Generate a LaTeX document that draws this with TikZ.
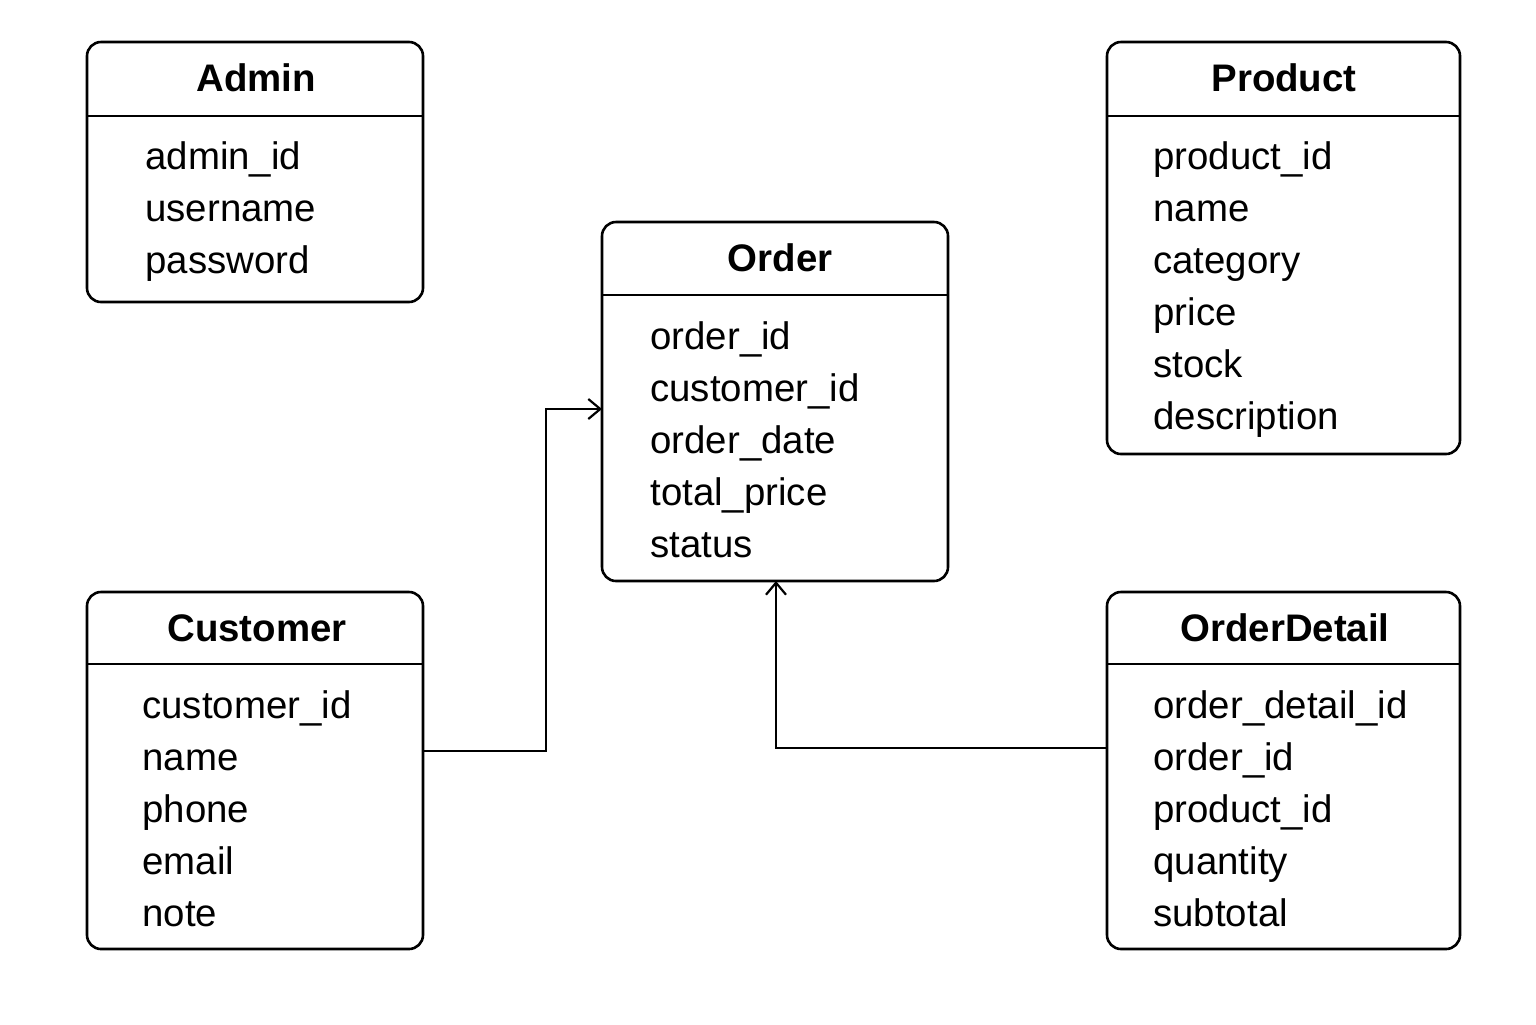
\documentclass[tikz,border=0pt]{standalone}
\usepackage{fontspec}
\setmainfont{Liberation Sans}
\usepackage{tikz}
\usetikzlibrary{positioning,arrows.meta}

\begin{document}
\begin{tikzpicture}[
      x=0.5pt, y=-0.5pt,
      entity/.style={
        draw,
        rectangle,
        rounded corners=7pt,
        line width=1.3pt,
        outer sep=0pt,
        inner sep=0pt
      },
      title/.style={
        anchor=base,
        inner sep=0pt,
        font=\fontsize{19.2}{23}\selectfont\bfseries
      },
      attr/.style={
        anchor=base west,
        inner sep=0pt,
        font=\fontsize{19.2}{23}\selectfont
      },
      conn/.style={line width=1pt},
      >={Straight Barb[length=6pt,width=10pt,line width=1.1pt]} % arrow tip
    ]
    \useasboundingbox (0,0) rectangle (1536,1024);

    % Admin
    \node[entity, minimum width=168pt, minimum height=130pt] (admin) at (255,172) {};
    \node[title] (admin-t) at (256,91) {Admin};
    \draw[line width=1.3pt] ([yshift=-37pt]admin.north west) -- ([yshift=-37pt]admin.north east);
    \foreach \a [count=\i] in {admin\_id, username, password}
      \node[attr] (admin-\i) at (145,{117+52*\i}) {\a};

    % Product
    \node[entity, minimum width=176.5pt, minimum height=206pt] (product) at (1283.5,248) {};
    \node[title] (product-t) at (1284,91) {Product};
    \draw[line width=1.3pt] ([yshift=-37pt]product.north west) -- ([yshift=-37pt]product.north east);
    \foreach \a [count=\i] in {product\_id, name, category, price, stock, description}
      \node[attr] (product-\i) at (1153,{117+52*\i}) {\a};

    % Order
    \node[entity, minimum width=173pt, minimum height=179.5pt] (order) at (775,401.5) {};
    \node[title] (order-t) at (780,271) {Order};
    \draw[line width=1.3pt] ([yshift=-36.5pt]order.north west) -- ([yshift=-36.5pt]order.north east);
    \foreach \a [count=\i] in {order\_id, customer\_id, order\_date, total\_price, status}
      \node[attr] (order-\i) at (650,{297+52*\i}) {\a};

    % Customer
    \node[entity, minimum width=168pt, minimum height=178.5pt] (customer) at (255,770.5) {};
    \node[title] (customer-t) at (257,641) {Customer};
    \draw[line width=1.3pt] ([yshift=-36pt]customer.north west) -- ([yshift=-36pt]customer.north east);
    \foreach \a [count=\i] in {customer\_id, name, phone, email, note}
      \node[attr] (customer-\i) at (142,{666+52*\i}) {\a};

    % OrderDetail
    \node[entity, minimum width=176.5pt, minimum height=178.5pt] (orderdetail) at (1283.5,770.5) {};
    \node[title] (orderdetail-t) at (1285,641) {OrderDetail};
    \draw[line width=1.3pt] ([yshift=-36pt]orderdetail.north west) -- ([yshift=-36pt]orderdetail.north east);
    \foreach \a [count=\i] in {order\_detail\_id, order\_id, product\_id, quantity, subtotal}
      \node[attr] (orderdetail-\i) at (1153,{666+52*\i}) {\a};

    % Connectors
    \draw[conn,->] ([yshift=9.75pt]customer.east) -- ++(123,0) |- ([yshift=-3.75pt]order.west);
    \draw[conn,->] ([yshift=11.25pt]orderdetail.west) -| ([xshift=0.5pt]order.south);
  \end{tikzpicture}
\end{document}
